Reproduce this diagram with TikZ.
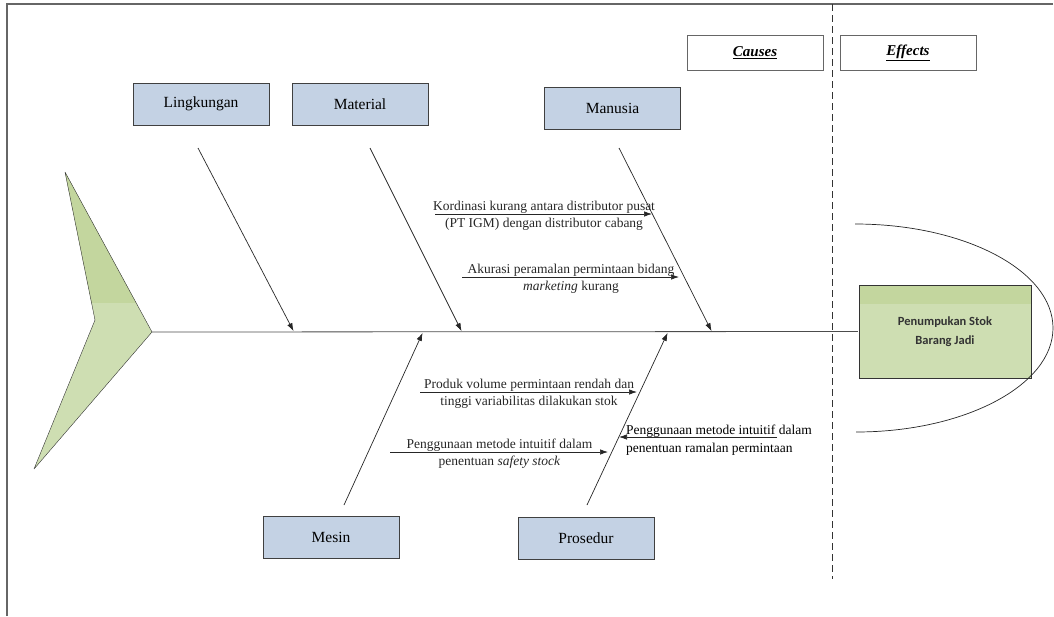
\documentclass[tikz,border=0pt]{standalone}
\usepackage{fontspec}
\setmainfont{Liberation Serif}
\newfontfamily\calibri{Carlito}
\usetikzlibrary{arrows.meta}
\definecolor{boxblue}{RGB}{196,210,228}
\definecolor{greenlight}{RGB}{206,222,178}
\definecolor{greendark}{RGB}{195,214,158}

\begin{document}
\begin{tikzpicture}[>={Latex[length=8pt,width=5.5pt]},shorten >=1pt,x=1pt,y=-1pt,
    factor/.style={draw=black!75,fill=boxblue,minimum width=136pt,minimum height=42pt,font=\fontsize{15.5}{18}\selectfont},
    side/.style={draw=black!60,fill=white,minimum width=136pt,minimum height=35pt,font=\fontsize{15}{18}\selectfont\bfseries\itshape},
    effect/.style={draw=black!80,fill=greenlight,minimum width=172pt,minimum height=93pt,align=center,
        text=black!80,font=\calibri\bfseries\fontsize{12.5}{19}\selectfont,
        path picture={\fill[greendark] (path picture bounding box.north west) rectangle ([yshift=-19pt]path picture bounding box.north east);}},
    cause/.style={font=\fontsize{13.5}{19}\selectfont,inner sep=1pt},
    bone/.style={black!85,line width=0.7pt}]
    \useasboundingbox (0,0) rectangle (1054,616);

    \draw[black!60,line width=1.2pt] (7,616) -- (7,4) -- (1054,4);
    \draw[black!80,dash pattern=on 7pt off 4pt] (832,4) -- (832,580);

    \node[side] (causes) at (755,52.5) {\underline{Causes}};
    \node[side] (effects) at (908,52.5) {\underline{Effects}};

    \node[factor] (lingkungan) at (201,104) {Lingkungan};
    \node[factor] (material)   at (360,104) {Material};
    \node[factor] (manusia)    at (612.5,108.5) {Manusia};
    \node[factor] (mesin)      at (331,537.5) {Mesin};
    \node[factor] (prosedur)   at (586,538.5) {Prosedur};
    \node[effect] (stok) at (945,331.5) {Penumpukan Stok\\Barang Jadi};

    \coordinate (headtop)   at (65,172);
    \coordinate (headtip)   at (152,332);
    \coordinate (headbot)   at (34,469);
    \coordinate (headnotch) at (95,320);
    \begin{scope}
        \clip (headtop) -- (headtip) -- (headbot) -- (headnotch) -- cycle;
        \fill[greenlight] (0,150) rectangle (160,480);
        \fill[greendark] (0,150) rectangle (160,303);
    \end{scope}
    \draw[black!80,line join=bevel] (headtop) -- (headtip) -- (headbot) -- (headnotch) -- cycle;
    \draw[black!70,line width=0.8pt] (headtip) -- (stok.west);

    \coordinate (ellipsetop) at (855,224);
    \draw[black!85,line width=0.7pt] (ellipsetop) arc[start angle=-90,end angle=90,x radius=198,y radius=104];

    \coordinate (lingS) at (198,148);
    \coordinate (lingE) at (294,332);
    \coordinate (matS)  at (370,148);
    \coordinate (matE)  at (462,332);
    \coordinate (manS)  at (619,148);
    \coordinate (manE)  at (712,332);
    \coordinate (mesS)  at (344,505);
    \coordinate (mesE)  at (423,332);
    \coordinate (proS)  at (587,505);
    \coordinate (proE)  at (668,332);

    \coordinate (k1) at (435,214);
    \coordinate (k2) at (653,214);
    \coordinate (a1) at (462,277);
    \coordinate (a2) at (680,277);
    \coordinate (p1) at (420,392);
    \coordinate (p2) at (638,392);
    \coordinate (s1) at (390,452);
    \coordinate (s2) at (609,452);
    \coordinate (r1) at (777,437);
    \coordinate (r2) at (618,437);

    \path[->,bone]
        (lingS) edge (lingE)
        (matS) edge (matE)
        (manS) edge (manE)
        (mesS) edge (mesE)
        (proS) edge (proE)
        (k1) edge node[cause,above=-1pt] {Kordinasi kurang antara distributor pusat}
                  node[cause,below=3pt] {(PT IGM) dengan distributor cabang} (k2)
        (a1) edge node[cause,above=-1pt] {Akurasi peramalan permintaan bidang}
                  node[cause,below=3pt] {\textit{marketing} kurang} (a2)
        (p1) edge node[cause,above=-1pt] {Produk volume permintaan rendah dan}
                  node[cause,below=3pt] {tinggi variabilitas dilakukan stok} (p2)
        (s1) edge node[cause,above=-1pt] {Penggunaan metode intuitif dalam}
                  node[cause,below=3pt] {penentuan \textit{safety stock}} (s2)
        (r1) edge (r2);

    \node[cause,anchor=south west] (ramalan1) at (625,439) {Penggunaan metode intuitif dalam};
    \node[cause,anchor=north west] (ramalan2) at (625,442) {penentuan ramalan permintaan};
\end{tikzpicture}
\end{document}
